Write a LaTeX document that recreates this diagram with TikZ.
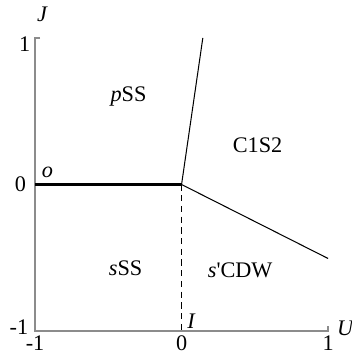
\documentclass[tikz,border=0pt]{standalone}
\usepackage{fontspec}
\setmainfont{Liberation Serif}
\usepackage{tikz}
\usetikzlibrary{positioning,calc}
\definecolor{axisgray}{HTML}{8C8C8C}
\tikzset{
  paxis/.style={line width=0.8pt,draw=axisgray},
  pbound/.style={line width=0.5pt,draw=black},
  pthick/.style={line width=1.3pt,draw=black},
  pdash/.style={line width=0.6pt,draw=black,dash pattern=on 3pt off 2.2pt},
  plabel/.style={inner sep=0pt,font=\fontsize{10.8}{12}\selectfont},
  ptick/.style={inner sep=0pt,font=\fontsize{10.8}{12}\selectfont}
}
\begin{document}
\begin{tikzpicture}[x=2.5cm,y=2.5cm]
  \useasboundingbox (-1.239,-1.143) rectangle (1.157,1.259);
  % corners and special points
  \coordinate (ll) at (-1,-1);
  \coordinate (ul) at (-1,1);
  \coordinate (lr) at (1,-1);
  \coordinate (o) at (-1,0);
  \coordinate (c) at (0,0);
  \coordinate (cb) at (0,-1);
  \coordinate (ctop) at (0.145,1);
  \coordinate (cright) at (1,-0.505);
  % axes
  \draw[paxis] ($(ul)+(0.035,0)$) -- (ul) -- (ll) -- (lr) -- ($(lr)+(0,0.035)$);
  % phase boundaries
  \draw[pthick] (o) -- (c);
  \draw[pdash] (c) -- (cb);
  \draw[pbound] (c) -- (ctop);
  \draw[pbound] (c) -- (cright);
  % tick labels
  \node[ptick] (y1) at (-1.07,0.956) {1};
  \node[ptick] (y0) at (-1.10,0) {0};
  \node[ptick] (ym1) at (-1.11,-0.976) {-1};
  \node[ptick] (xm1) at (-1,-1.085) {-1};
  \node[ptick] (x0) at (0,-1.085) {0};
  \node[ptick] (x1) at (1,-1.085) {1};
  \node[plabel] (J) at (-0.949,1.16) {\textit{J}};
  \node[plabel] (U) at (1.12,-0.98) {\textit{U}};
  \node[plabel] (olab) at (-0.915,0.082) {\textit{o}};
  \node[plabel] (Ilab) at (0.068,-0.93) {\textit{I}};
  % phases
  \node[plabel] (pSS) at (-0.362,0.60) {\textit{p}SS};
  \node[plabel] (C1S2) at (0.519,0.266) {C1S2};
  \node[plabel] (sSS) at (-0.382,-0.573) {\textit{s}SS};
  \node[plabel] (sCDW) at (0.40,-0.587) {\textit{s}\textquotesingle CDW};
\end{tikzpicture}
\end{document}
